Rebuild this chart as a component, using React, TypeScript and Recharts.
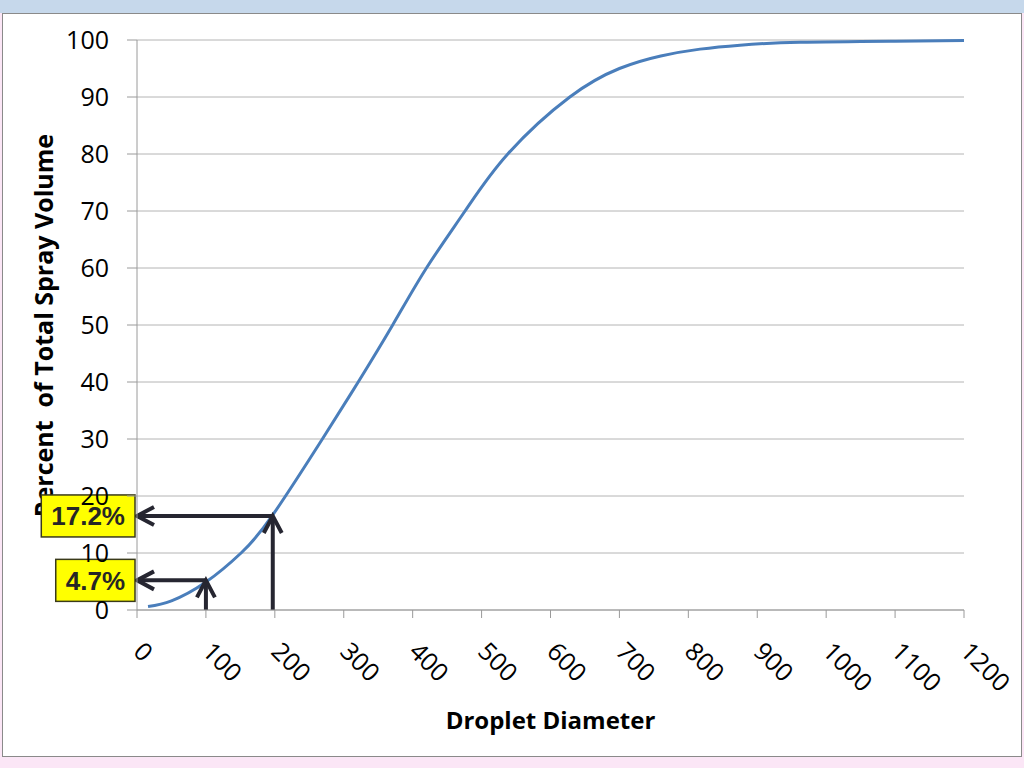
import React from 'react';
import { LineChart, Line, XAxis, YAxis, CartesianGrid, ReferenceLine, Label } from 'recharts';

// droplet diameter vs cumulative percent of spray volume
const diameter = [16, 50, 100, 151, 196, 269, 321, 371, 420, 476, 538, 628, 700, 760, 817, 875, 962, 1100, 1200];
const percentVolume = [0.6, 1.6, 4.9, 10, 16.5, 30, 40, 50, 60, 70, 80, 90, 95.0, 97.2, 98.4, 99.1, 99.6, 99.8, 99.9];

const xTicks = [0, 100, 200, 300, 400, 500, 600, 700, 800, 900, 1000, 1100, 1200];
const yTicks = [0, 10, 20, 30, 40, 50, 60, 70, 80, 90, 100];

// marked points with their callouts (arrow level as drawn, label as printed)
const markDiameter = [100, 197];
const markLevel = [5.2, 16.5];
const markLabels = ['4.7%', '17.2%'];

const data = diameter.map((d, i) => ({ d, v: percentVolume[i] }));

const ARROW = '#262631';
const FONT = '"Open Sans", sans-serif';
const BOX_FONT = 26;

const chevron = (x1: number, y1: number, x2: number, y2: number) => {
  const len = Math.hypot(x2 - x1, y2 - y1) || 1;
  const ux = (x2 - x1) / len;
  const uy = (y2 - y1) / len;
  const back = 17;
  const half = 9;
  const bx = x2 - ux * back;
  const by = y2 - uy * back;
  return `M${bx - uy * half},${by + ux * half} L${x2},${y2} L${bx + uy * half},${by - ux * half}`;
};

const makeArrow = (label?: string) => (props: any) => {
  const { x1, y1, x2, y2 } = props;
  // rough Arial-bold width of the callout text
  const textW = label
    ? label.split('').reduce((s, c) => s + (c === '.' ? 0.278 : c === '%' ? 0.889 : 0.556), 0) * BOX_FONT
    : 0;
  const boxW = textW + 20;
  const boxH = 42;
  return (
    <g>
      <line x1={x1} y1={y1} x2={x2} y2={y2} stroke={ARROW} strokeWidth={4} />
      <path d={chevron(x1, y1, x2, y2)} fill="none" stroke={ARROW} strokeWidth={4} />
      {label && (
        <g>
          <rect
            x={x2 - 2 - boxW}
            y={y2 - boxH / 2}
            width={boxW}
            height={boxH}
            fill="#ffff00"
            stroke="#3a3a1a"
            strokeWidth={1.5}
          />
          <text
            x={x2 - 2 - boxW / 2}
            y={y2 + 9.5}
            textAnchor="middle"
            fontFamily='"Liberation Sans", Arial, sans-serif'
            fontWeight="bold"
            fontSize={BOX_FONT}
            fill="#262626"
          >
            {label}
          </text>
        </g>
      )}
    </g>
  );
};

const XTick = (props: any) => {
  const { x, y, payload } = props;
  const bx = x - 5;
  const by = y + 33;
  return (
    <text
      x={bx}
      y={by}
      transform={`rotate(45 ${bx} ${by})`}
      textAnchor="start"
      fontSize={25}
      fontFamily={FONT}
      fill="#000"
    >
      {payload.value}
    </text>
  );
};

export default function App() {
  return (
    <div
      style={{
        position: 'absolute',
        left: 0,
        top: 0,
        width: 1024,
        height: 768,
        background: '#fbe6f6',
        overflow: 'hidden',
      }}
    >
      <div style={{ position: 'absolute', left: 0, top: 0, width: 1024, height: 13, background: '#c6d8eb' }} />
      <div
        style={{
          position: 'absolute',
          left: 2,
          top: 13,
          width: 1020,
          height: 744,
          background: '#fff',
          border: '1px solid #8a8a8a',
          boxSizing: 'border-box',
        }}
      />
      {/* y title sits under the svg so the callout box covers it */}
      <div
        style={{
          position: 'absolute',
          left: 43 - 250,
          top: 325 - 12.5,
          width: 500,
          height: 25,
          lineHeight: '25px',
          fontSize: 25,
          fontWeight: 'bold',
          fontFamily: FONT,
          textAlign: 'center',
          whiteSpace: 'pre',
          color: '#000',
          transform: 'rotate(-90deg)',
        }}
      >
        {'Percent  of Total Spray Volume'}
      </div>
      <div style={{ position: 'absolute', left: 0, top: 0 }}>
        <LineChart
          width={1024}
          height={768}
          data={data}
          margin={{ top: 40, right: 60, bottom: 33, left: 0 }}
          style={{ fontFamily: FONT }}
        >
          <CartesianGrid vertical={false} stroke="#b4b4b4" />
          <XAxis
            dataKey="d"
            type="number"
            domain={[0, 1200]}
            ticks={xTicks}
            interval={0}
            height={125}
            tickSize={8}
            stroke="#9a9a9a"
            tick={<XTick />}
          >
            <Label
              value="Droplet Diameter"
              position="insideBottom"
              offset={6}
              style={{ fontSize: 24, fontWeight: 'bold', fill: '#000', fontFamily: FONT }}
            />
          </XAxis>
          <YAxis
            type="number"
            domain={[0, 100]}
            ticks={yTicks}
            interval={0}
            width={137}
            tickSize={10}
            tickMargin={18}
            stroke="#9a9a9a"
            tick={{ fontSize: 25, fill: '#000', fontFamily: FONT }}
          />
          <Line
            type="natural"
            dataKey="v"
            stroke="#4a7ebb"
            strokeWidth={3}
            dot={false}
            isAnimationActive={false}
          />
          {markDiameter.map((d, i) => (
            <ReferenceLine
              key={`v${i}`}
              segment={[{ x: d, y: 0 }, { x: d, y: markLevel[i] }]}
              ifOverflow="visible"
              shape={makeArrow()}
            />
          ))}
          {markDiameter.map((d, i) => (
            <ReferenceLine
              key={`h${i}`}
              segment={[{ x: d, y: markLevel[i] }, { x: 0, y: markLevel[i] }]}
              ifOverflow="visible"
              shape={makeArrow(markLabels[i])}
            />
          ))}
        </LineChart>
      </div>
    </div>
  );
}
